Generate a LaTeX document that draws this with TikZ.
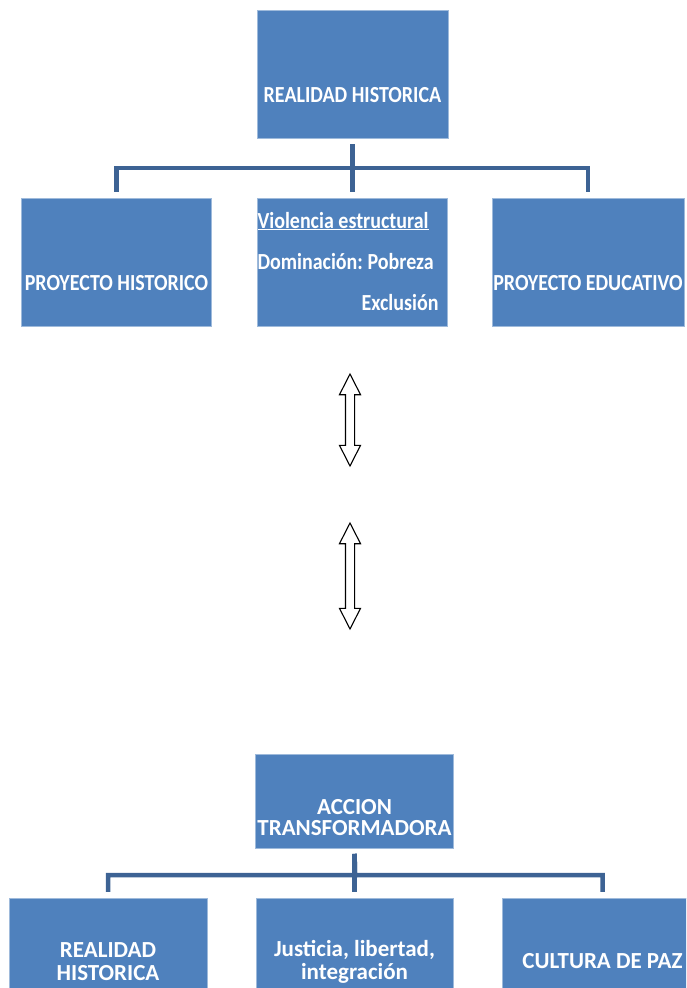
\documentclass[tikz,border=0pt]{standalone}
\usepackage{fontspec}
\usetikzlibrary{positioning,shapes.arrows}
\newfontfamily\condfont[FakeStretch=0.87]{Carlito}
\newfontfamily\plainfont{Carlito}
\definecolor{boxblue}{RGB}{79,129,189}
\definecolor{barblue}{RGB}{61,99,148}

\tikzset{
  box/.style={shape=rectangle, fill=boxblue, draw=boxblue!55!white, line width=0.5pt,
    text=white, inner sep=0pt, minimum height=128pt},
  upper/.style={box, font=\condfont\bfseries\frenchspacing\fontsize{23}{41}\selectfont},
  lower/.style={box, align=center, font=\plainfont\bfseries\fontsize{23}{23}\selectfont},
  branch/.style={draw=barblue, line width=4.5pt, shorten <=6pt, shorten >=6pt},
  updown/.style={shape=double arrow, draw, line width=1.1pt, fill=white, rotate=90,
    inner sep=4pt, double arrow head extend=6pt, double arrow tip angle=54}
}

\begin{document}
\begin{tikzpicture}[x=1pt, y=1pt, node distance=188pt]
\clip (0,0) rectangle (686,-988);

% upper chart
\node [upper, minimum width=191pt, text height=56pt, text depth=0pt] (realidad) at (352.5,-74) {REALIDAD HISTORICA};
\node [upper, minimum width=190pt, below of=realidad, text width=190pt, align=flush left,
       text height=0pt, text depth=68pt] (violencia)
  {\underline{Violencia estructural}\\Dominación: Pobreza\\\hfill Exclusión\hspace*{9pt}};
\node [upper, minimum width=190pt, left of=violencia, node distance=236pt,
       text height=56pt, text depth=0pt] (proyhist) {PROYECTO HISTORICO};
\node [upper, minimum width=192pt, right of=violencia, node distance=235.5pt,
       text height=56pt, text depth=0pt] (proyedu) {PROYECTO EDUCATIVO};

\coordinate (bartop) at (352.5,-168);
\draw[branch] (realidad.south) -- (bartop) -| (proyhist.north);
\draw[branch] (realidad.south) -- (bartop) -| (proyedu.north);
\draw[branch] (realidad.south) -- (violencia.north);

% arrows in between
\node [updown, minimum height=92pt] (arrowa) at (350,-420) {};
\node [updown, minimum height=106pt] (arrowb) at (350,-576) {};

% lower chart
\node [lower, minimum width=198pt, minimum height=94pt, text height=67pt, text depth=0pt,
       font=\plainfont\bfseries\fontsize{23}{21}\selectfont] (accion) at (354.5,-801.5) {ACCION\\TRANSFORMADORA};
\node [lower, minimum width=197pt, below of=accion, node distance=160.5pt,
       text height=34pt, text depth=0pt] (justicia) {Justicia, libertad,\\integración};
\node [lower, minimum width=198pt, left of=justicia, node distance=246.5pt,
       text height=36pt, text depth=0pt] (realidadb) {REALIDAD\\HISTORICA};
\node [lower, minimum width=200pt, right of=justicia, node distance=248pt,
       text height=12pt, text depth=0pt] (cultura) {CULTURA DE PAZ};

\coordinate (barbot) at (355,-875);
\draw[branch, shorten <=5pt] (accion.south) -- (barbot) -| (realidadb.north);
\draw[branch, shorten <=5pt] (accion.south) -- (barbot) -| (cultura.north);
\draw[branch, shorten <=5pt] (accion.south) -- (justicia.north);
\end{tikzpicture}
\end{document}
